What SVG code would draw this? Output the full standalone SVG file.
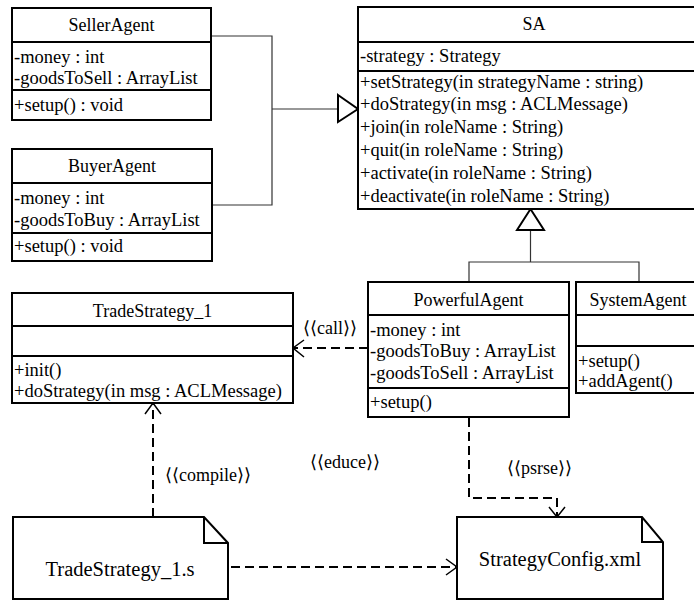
<svg xmlns="http://www.w3.org/2000/svg" width="694" height="601" viewBox="0 0 694 601">
  <style>
    text { font-family: "Liberation Serif", "DejaVu Serif", serif; fill: #000; }
    .title { font-size: 18px; text-anchor: middle; }
    .member { font-size: 18.5px; }
    .stereo { font-size: 18px; }
    .note-text { font-size: 20.5px; text-anchor: middle; }
    .box { fill: #fff; stroke: #000; stroke-width: 2; }
    .div { stroke: #000; stroke-width: 2; fill: none; }
    .gen { stroke: #333; stroke-width: 1.2; fill: none; }
    .tri { fill: #fff; stroke: #000; stroke-width: 2; }
    .dep { stroke: #000; stroke-width: 2; fill: none; stroke-dasharray: 9 5; }
    .head { stroke: #000; stroke-width: 1.5; fill: none; }
  </style>
  <rect width="694" height="601" fill="#fff"/>

  <!-- generalization and dependency connectors -->
  <g id="connectors">
    <!-- SellerAgent / BuyerAgent -> SA -->
    <polyline class="gen" points="211,36 272,36 272,205 212,205"/>
    <line class="gen" x1="272" y1="109" x2="338" y2="109"/>
    <polygon class="tri" points="338,95 358,109 338,122"/>
    <!-- PowerfulAgent / SystemAgent -> SA -->
    <polyline class="gen" points="469,282 469,262 639,262 639,282"/>
    <line class="gen" x1="530.5" y1="230" x2="530.5" y2="262"/>
    <polygon class="tri" points="517,230 530.5,209 544,230"/>
    <!-- call -->
    <line class="dep" x1="368" y1="348" x2="294" y2="348"/>
    <polyline class="head" points="304,340 293,348 304,357"/>
    <text class="stereo" x="303" y="334">⟨⟨call⟩⟩</text>
    <!-- compile -->
    <line class="dep" x1="153" y1="517" x2="153" y2="404"/>
    <polyline class="head" points="145,414 153,403 161,414"/>
    <text class="stereo" x="165" y="481">⟨⟨compile⟩⟩</text>
    <!-- psrse -->
    <polyline class="dep" points="469,418 469,498 557,498 557,516"/>
    <polyline class="head" points="549,507 557,517 565,507"/>
    <text class="stereo" x="507" y="474">⟨⟨psrse⟩⟩</text>
    <!-- educe -->
    <line class="dep" x1="231" y1="567" x2="456" y2="567"/>
    <polyline class="head" points="446,559 457,567 446,575"/>
    <text class="stereo" x="310" y="468">⟨⟨educe⟩⟩</text>
  </g>

  <g id="SellerAgent">
    <rect class="box" x="12" y="8" width="199" height="112"/>
    <line class="div" x1="12" y1="42" x2="211" y2="42"/>
    <line class="div" x1="12" y1="90" x2="211" y2="90"/>
    <text class="title" x="111.5" y="31">SellerAgent</text>
    <text class="member" x="14" y="63">-money : int</text>
    <text class="member" x="14" y="84">-goodsToSell : ArrayList</text>
    <text class="member" x="14" y="111">+setup() : void</text>
  </g>

  <g id="BuyerAgent">
    <rect class="box" x="12" y="149" width="200" height="112"/>
    <line class="div" x1="12" y1="183" x2="212" y2="183"/>
    <line class="div" x1="12" y1="233" x2="212" y2="233"/>
    <text class="title" x="112" y="172">BuyerAgent</text>
    <text class="member" x="14" y="204">-money : int</text>
    <text class="member" x="14" y="226">-goodsToBuy : ArrayList</text>
    <text class="member" x="14" y="252">+setup() : void</text>
  </g>

  <g id="SA">
    <rect class="box" x="358" y="7" width="352" height="202"/>
    <line class="div" x1="358" y1="42" x2="710" y2="42"/>
    <line class="div" x1="358" y1="71" x2="710" y2="71"/>
    <text class="title" x="534" y="30">SA</text>
    <text class="member" x="360" y="62">-strategy : Strategy</text>
    <text class="member" x="360" y="88">+setStrategy(in strategyName : string)</text>
    <text class="member" x="360" y="110">+doStrategy(in msg : ACLMessage)</text>
    <text class="member" x="360" y="133">+join(in roleName : String)</text>
    <text class="member" x="360" y="156">+quit(in roleName : String)</text>
    <text class="member" x="360" y="179">+activate(in roleName : String)</text>
    <text class="member" x="360" y="202">+deactivate(in roleName : String)</text>
  </g>

  <g id="TradeStrategy_1">
    <rect class="box" x="12" y="293" width="281" height="110"/>
    <line class="div" x1="12" y1="326" x2="293" y2="326"/>
    <line class="div" x1="12" y1="356" x2="293" y2="356"/>
    <text class="title" x="152.5" y="317">TradeStrategy_1</text>
    <text class="member" x="14" y="376">+init()</text>
    <text class="member" x="14" y="397">+doStrategy(in msg : ACLMessage)</text>
  </g>

  <g id="PowerfulAgent">
    <rect class="box" x="368" y="282" width="201" height="135"/>
    <line class="div" x1="368" y1="315" x2="569" y2="315"/>
    <line class="div" x1="368" y1="388" x2="569" y2="388"/>
    <text class="title" x="468.5" y="306">PowerfulAgent</text>
    <text class="member" x="370" y="336">-money : int</text>
    <text class="member" x="370" y="357">-goodsToBuy : ArrayList</text>
    <text class="member" x="370" y="379">-goodsToSell : ArrayList</text>
    <text class="member" x="370" y="408">+setup()</text>
  </g>

  <g id="SystemAgent">
    <rect class="box" x="576" y="282" width="124" height="111"/>
    <line class="div" x1="576" y1="315" x2="700" y2="315"/>
    <line class="div" x1="576" y1="346" x2="700" y2="346"/>
    <text class="title" x="638" y="306">SystemAgent</text>
    <text class="member" x="578" y="367">+setup()</text>
    <text class="member" x="578" y="387">+addAgent()</text>
  </g>

  <g id="TradeStrategy_1_s">
    <polygon class="box" points="13,517 204,517 228,543 228,599 13,599"/>
    <polyline class="div" points="204,517 204,543 228,543"/>
    <text class="note-text" x="120" y="576">TradeStrategy_1.s</text>
  </g>

  <g id="StrategyConfig_xml">
    <polygon class="box" points="457,517 642,517 663,542 663,599 457,599"/>
    <polyline class="div" points="642,517 642,542 663,542"/>
    <text class="note-text" x="560" y="566">StrategyConfig.xml</text>
  </g>
</svg>
